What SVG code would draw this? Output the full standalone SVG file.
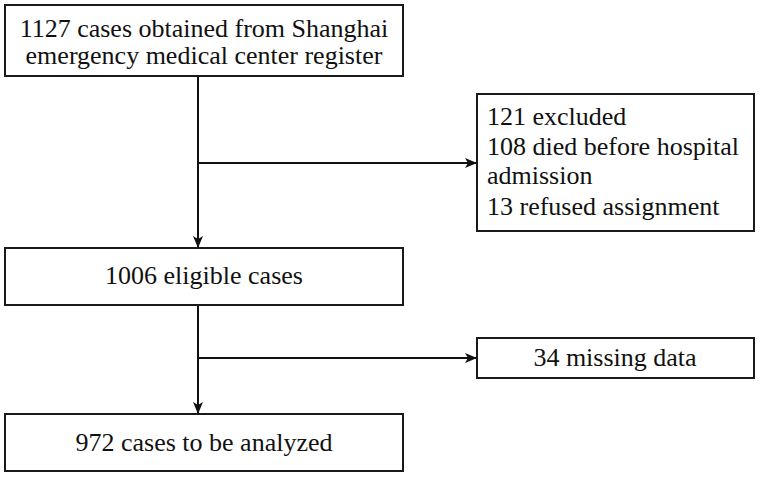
<svg xmlns="http://www.w3.org/2000/svg" width="760" height="477" viewBox="0 0 760 477">
<style>
.box{fill:#fff;stroke:#1a1a1a;stroke-width:2}
.t{font-family:"Liberation Serif","Times New Roman",serif;font-size:26px;fill:#111}
.c{text-anchor:middle}
.ln{stroke:#111;stroke-width:2;fill:none}
</style>
<defs>
<marker id="ah" viewBox="0 0 12 10" refX="11" refY="5" markerWidth="12" markerHeight="10" markerUnits="userSpaceOnUse" orient="auto">
<path d="M0,0 L12,5 L0,10 L3,5 Z" fill="#111"/>
</marker>
</defs>
<rect width="760" height="477" fill="#fff"/>
<g id="connectors">
<line class="ln" x1="198" y1="76" x2="198" y2="247" marker-end="url(#ah)"/>
<line class="ln" x1="198" y1="163" x2="476" y2="163" marker-end="url(#ah)"/>
<line class="ln" x1="198" y1="305" x2="198" y2="413" marker-end="url(#ah)"/>
<line class="ln" x1="198" y1="358" x2="476" y2="358" marker-end="url(#ah)"/>
</g>
<g id="n1">
<rect class="box" x="5" y="5" width="398" height="71"/>
<text class="t c" x="204" y="37">1127 cases obtained from Shanghai</text>
<text class="t c" x="204" y="64">emergency medical center register</text>
</g>
<g id="n2">
<rect class="box" x="477" y="94" width="277" height="137"/>
<text class="t" x="487" y="125">121 excluded</text>
<text class="t" x="487" y="155">108 died before hospital</text>
<text class="t" x="487" y="184">admission</text>
<text class="t" x="487" y="215">13 refused assignment</text>
</g>
<g id="n3">
<rect class="box" x="5" y="248" width="398" height="57"/>
<text class="t c" x="204" y="284">1006 eligible cases</text>
</g>
<g id="n4">
<rect class="box" x="477" y="338" width="277" height="40"/>
<text class="t c" x="615" y="366">34 missing data</text>
</g>
<g id="n5">
<rect class="box" x="5" y="414" width="398" height="57"/>
<text class="t c" x="204" y="451">972 cases to be analyzed</text>
</g>
</svg>
